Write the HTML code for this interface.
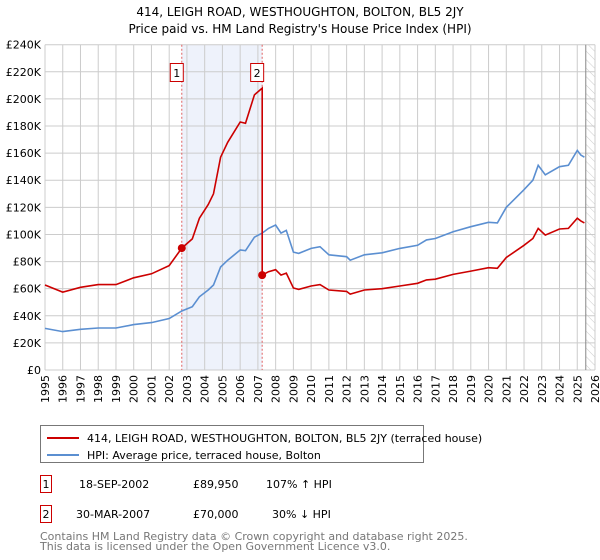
<!DOCTYPE html>
<html><head><meta charset="utf-8"><style>
body{margin:0;background:#fff;font-family:"Liberation Sans","DejaVu Sans",sans-serif;}
#wrap{position:relative;width:600px;height:560px;overflow:hidden;}
svg text{font-family:"DejaVu Sans","Liberation Sans",sans-serif;}
</style></head><body><div id="wrap">
<svg id="chart" width="600" height="560" xmlns="http://www.w3.org/2000/svg">
<text x="300" y="16" text-anchor="middle" font-size="12">414, LEIGH ROAD, WESTHOUGHTON, BOLTON, BL5 2JY</text>
<text x="300" y="33" text-anchor="middle" font-size="12">Price paid vs. HM Land Registry's House Price Index (HPI)</text>
<g id="plot"></g>
<g>
<rect x="40.5" y="425.5" width="383" height="37" fill="#fff" stroke="#777"/>
<line x1="47" y1="438" x2="79" y2="438" stroke="#cc0000" stroke-width="2"/>
<text x="87" y="442" font-size="11">414, LEIGH ROAD, WESTHOUGHTON, BOLTON, BL5 2JY (terraced house)</text>
<line x1="47" y1="455" x2="79" y2="455" stroke="#5b8fd1" stroke-width="2"/>
<text x="87" y="459" font-size="11">HPI: Average price, terraced house, Bolton</text>
</g>
<g font-size="11">
<rect x="40.5" y="475.5" width="11" height="17" fill="#fff" stroke="#cc0000"/>
<text x="46" y="488" text-anchor="middle">1</text>
<text x="79" y="488">18-SEP-2002</text>
<text x="193" y="488">£89,950</text>
<text x="266" y="488">107% ↑ HPI</text>
<rect x="40.5" y="505.5" width="11" height="17" fill="#fff" stroke="#cc0000"/>
<text x="46" y="518" text-anchor="middle">2</text>
<text x="76" y="518">30-MAR-2007</text>
<text x="193" y="518">£70,000</text>
<text x="272" y="518">30% ↓ HPI</text>
</g>
<text x="40" y="540" font-size="11" fill="#777">Contains HM Land Registry data © Crown copyright and database right 2025.</text>
<text x="40" y="550" font-size="11" fill="#777">This data is licensed under the Open Government Licence v3.0.</text>
</svg>
<script>
const hpiDates=[1995,1996,1997,1998,1999,2000,2001,2002,2002.71,2003.3,2003.7,2004.2,2004.5,2004.9,2005.3,2006,2006.3,2006.8,2007.24,2007.6,2008,2008.3,2008.6,2009,2009.3,2010,2010.5,2011,2012,2012.2,2013,2014,2015,2016,2016.5,2017,2018,2019,2020,2020.5,2021,2022,2022.5,2022.8,2023.2,2024,2024.5,2025,2025.2,2025.4];
const hpiValues=[30.7,28.3,30,31,31,33.5,35,38,43.5,46.7,54,59,62.7,76,81,88.5,88,98,101,104.5,107,101,103,87,86,89.7,91,85,83.6,81,85,86.5,89.7,92,96,97,102,105.7,109,108.5,120,133,140,151,144,150,151,162,158.6,157];
const priceDates=[1995,1996,1997,1998,1999,2000,2001,2002,2002.71,2003.3,2003.7,2004.2,2004.5,2004.9,2005.3,2006,2006.3,2006.8,2007.24,2007.24,2007.6,2008,2008.3,2008.6,2009,2009.3,2010,2010.5,2011,2012,2012.2,2013,2014,2015,2016,2016.5,2017,2018,2019,2020,2020.5,2021,2022,2022.5,2022.8,2023.2,2024,2024.5,2025,2025.2,2025.4];
const priceValues=[62.7,57.5,61,63,63,68,71,77,89.95,96.7,112,122,130,157,168,183,182,203,208,70,72.5,74,70,71.5,60.5,59.5,62,63,59,58,56,59,60,62,64,66.5,67,70.5,73,75.5,75,83,92,97,104.5,99.5,104,104.5,112,110,108.5];
const saleDates=[2002.71,2007.24];
const saleValues=[89.95,70];
const saleLabels=['1','2'];
const yTicks=[0,20,40,60,80,100,120,140,160,180,200,220,240];
const xYears=[1995,1996,1997,1998,1999,2000,2001,2002,2003,2004,2005,2006,2007,2008,2009,2010,2011,2012,2013,2014,2015,2016,2017,2018,2019,2020,2021,2022,2023,2024,2025,2026];
const X0=45,X1=595,Y0=370,Y1=44.7;
const xs=d=>X0+(d-1995)/31*(X1-X0);
const ys=v=>Y0-v/240*(Y0-Y1);
const NS='http://www.w3.org/2000/svg';
const g=document.getElementById('plot');
function mk(t,a){const e=document.createElementNS(NS,t);for(const k in a)e.setAttribute(k,a[k]);g.appendChild(e);return e;}
let e=mk('rect',{x:xs(saleDates[0]),y:Y1,width:xs(saleDates[1])-xs(saleDates[0]),height:Y0-Y1,fill:'#eef2fb'});


// hatch
const defs=document.createElementNS(NS,'defs');defs.innerHTML='<pattern id="h" width="6" height="6" patternUnits="userSpaceOnUse" patternTransform="rotate(-45)"><line x1="0" y1="0" x2="0" y2="6" stroke="#ccc" stroke-width="1"/></pattern>';g.appendChild(defs);
e=mk('rect',{x:xs(2025.48),y:Y1,width:X1-xs(2025.48),height:Y0-Y1,fill:'url(#h)'});


yTicks.forEach(v=>{
 const l=mk('line',{x1:X0,x2:X1,y1:ys(v),y2:ys(v),stroke:'#ccc'});
 
 
 const t=mk('text',{x:X0-4,y:ys(v)+4,'text-anchor':'end','font-size':'11'});
 t.textContent='£'+(v===0?'0':v+'K');
 
 
});
xYears.forEach(yr=>{
 const l=mk('line',{x1:xs(yr),x2:xs(yr),y1:Y1,y2:Y0,stroke:'#ccc'});
 
 
 const t=mk('text',{x:0,y:0,'text-anchor':'end','font-size':'11',transform:`translate(${xs(yr)+4},${Y0+5}) rotate(-90)`});
 t.textContent=yr;
 
 
});
e=mk('line',{x1:xs(2025.48),x2:xs(2025.48),y1:Y1,y2:Y0,stroke:'#888'});


saleDates.forEach((d,i)=>{
 const l=mk('line',{x1:xs(d),x2:xs(d),y1:Y1,y2:Y0,stroke:'#e06060','stroke-dasharray':'2,2'});
 
 
});
function path(ds,vs,col,name){
 const p=mk('path',{d:ds.map((d,i)=>(i?'L':'M')+xs(d).toFixed(1)+','+ys(vs[i]).toFixed(1)).join(''),fill:'none',stroke:col,'stroke-width':'1.6'});
 
 
}
path(hpiDates,hpiValues,'#5b8fd1','hpi-line');
path(priceDates,priceValues,'#cc0000','price-line');
saleDates.forEach((d,i)=>{
 const c=mk('circle',{cx:xs(d),cy:ys(saleValues[i]),r:4,fill:'#cc0000'});
 
 
 const r=mk('rect',{x:xs(d)-11.5,y:63.5,width:13,height:18,fill:'#fff',stroke:'#cc0000'});
 
 
 const t=mk('text',{x:xs(d)-5,y:77,'text-anchor':'middle','font-size':'11'});
 t.textContent=saleLabels[i];
 
 
});
</script>
</div></body></html>
